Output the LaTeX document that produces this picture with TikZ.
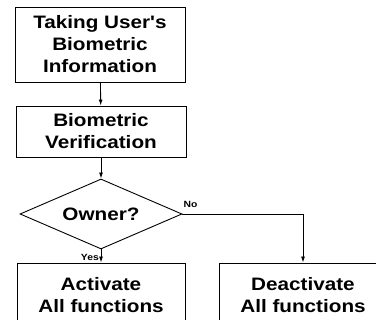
\documentclass[tikz,border=0pt]{standalone}
\usepackage{fontspec}
\newfontfamily\chartfont[FakeStretch=1.15]{Liberation Sans}
\usetikzlibrary{shapes.geometric,arrows.meta}
\begin{document}
\begin{tikzpicture}[x=1pt,y=1pt,
  every node/.style={font=\chartfont\bfseries\fontsize{18}{22}\selectfont},
  box/.style={draw,line width=0.9pt,rectangle,align=center,inner sep=0pt},
  decision/.style={draw,line width=0.9pt,diamond,inner sep=0pt,minimum width=162pt,minimum height=70pt},
  flow/.style={line width=0.9pt,-{Latex[length=6pt,width=4pt]}},
  tag/.style={font=\chartfont\bfseries\fontsize{9}{10}\selectfont,inner sep=1pt}]
\useasboundingbox (0,0) rectangle (376,320);
\fill[white] (0,0) rectangle (376,320);
\node[box,minimum width=170pt,minimum height=75pt] (take) at (100,275.5) {Taking User's\\Biometric\\Information};
\node[box,minimum width=170pt,minimum height=51pt] (verify) at (101,188.5) {Biometric\\Verification};
\node[decision] (owner) at (101,106) {};
\node (ownertext) at (owner.center) {Owner?};
\node[box,minimum width=168pt,minimum height=64pt] (act) at (101,25) {Activate\\All functions};
\node[box,minimum width=168pt,minimum height=64pt] (deact) at (303,25) {Deactivate\\All functions};
\draw[flow] (take) -- (verify);
\draw[flow] (verify) -- (owner);
\draw[flow] (owner.south) -- (owner.south |- act.north) coordinate (yesend);
\node[tag,anchor=south east] at ([xshift=-1pt,yshift=1pt]yesend) {Yes};
\draw[flow] (owner.east) -| (deact.north);
\node[tag,anchor=south west] at ([xshift=0pt,yshift=5pt]owner.east) {No};
\end{tikzpicture}
\end{document}
